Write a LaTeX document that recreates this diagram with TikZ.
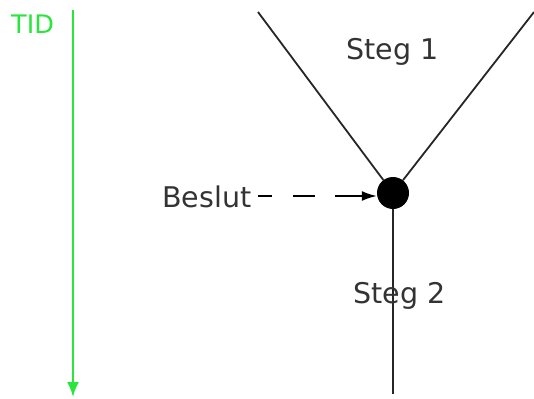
\documentclass[tikz,border=0pt]{standalone}
\usepackage{fontspec}
\setmainfont{DejaVu Sans}
\usetikzlibrary{arrows.meta}
\definecolor{tidgreen}{RGB}{40,230,60}

\begin{document}
\begin{tikzpicture}[x = 1pt, y = -1pt,
  steglinje/.style = {color = black!85, line width = 1.8pt},
  etikett/.style = {inner sep = 0pt, anchor = base west, font = \fontsize{28.5}{32}\selectfont, text = black!80}]
\useasboundingbox (0,0) rectangle (534,398);
% tidsaxeln
\node [inner sep = 0pt, anchor = base west, font = \fontsize{25.5}{28}\selectfont, text = tidgreen] (tid) at (11,34) {TID};
\coordinate (tidstart) at (73,10);
\coordinate (tidslut) at (73,397);
\draw [color = tidgreen, line width = 2.2pt, -{Latex[length=15pt,width=12pt]}] (tidstart) -- (tidslut);
% beslutspunkten
\node [circle, fill = black, inner sep = 0pt, minimum size = 32pt] (B) at (393,193) {};
\coordinate (V) at (258,12);
\coordinate (H) at (534,12);
\coordinate (N) at (393,394);
\draw [steglinje] (V) -- (B);
\draw [steglinje] (H) -- (B);
\draw [steglinje] (B) -- (N);
\node [etikett] (S1) at (346,60) {Steg 1};
\node [etikett] (S2) at (353,303) {Steg 2};
\node [etikett] (L) at (162,207) {Beslut};
\coordinate (Lst) at (258,196);
\draw [black, line width = 1.8pt, dash pattern = on 14pt off 21pt on 22pt off 20pt on 80pt,
  -{Latex[length=15pt,width=10pt]}] (Lst) -- (Lst -| B.west);
\end{tikzpicture}
\end{document}
